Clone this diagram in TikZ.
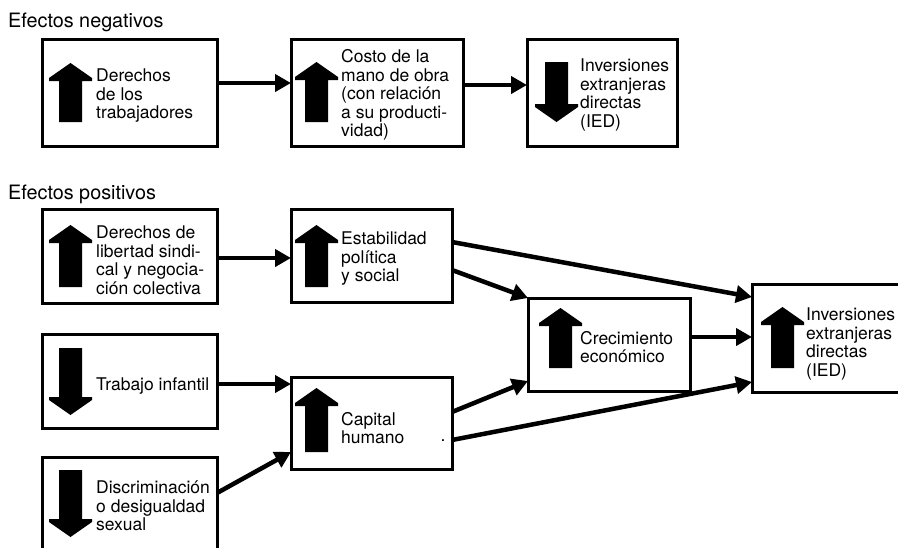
\documentclass[tikz,border=0pt]{standalone}
\usepackage{fontspec}
\setmainfont{TeX Gyre Heros}
\usetikzlibrary{arrows.meta}
\newcommand{\UpBlk}[3]{\fill (#1+21.5,#2) -- (#1+43,#2+15) -- (#1+43,#2+18) -- (#1+33,#2+18) -- (#1+33,#3) -- (#1+10,#3) -- (#1+10,#2+18) -- (#1,#2+18) -- (#1,#2+15) -- cycle;}
\newcommand{\DnBlk}[3]{\fill (#1+10,#2) -- (#1+33,#2) -- (#1+33,#3-18) -- (#1+43,#3-18) -- (#1+43,#3-15) -- (#1+21.5,#3) -- (#1,#3-15) -- (#1,#3-18) -- (#1+10,#3-18) -- cycle;}
\begin{document}
\begin{tikzpicture}[x=1pt,y=-1pt,
  box/.style={draw, line width=3pt, inner sep=0pt, outer sep=0pt, anchor=north west},
  conn/.style={line width=4.5pt, -{Triangle[length=16pt,width=17pt]}},
  lbl/.style={anchor=west, align=left, inner sep=0pt, font=\fontsize{17.5}{18.5}\selectfont},
  ttl/.style={anchor=base west, inner sep=0pt, font=\fontsize{19.8}{22}\selectfont}]
\useasboundingbox (0,0) rectangle (898,547);
\clip (0,0) rectangle (898,547);

% titles
\node[ttl] (tneg) at (8,27) {Efectos negativos};
\node[ttl] (tpos) at (8,199) {Efectos positivos};

% boxes
\node[box, minimum width=175pt, minimum height=107pt] (N1) at (42,39) {};
\node[box, minimum width=172pt, minimum height=107pt] (N2) at (291,39) {};
\node[box, minimum width=150pt, minimum height=107pt] (N3) at (527,39) {};
\node[box, minimum width=175pt, minimum height=94pt] (P1) at (42,209) {};
\node[box, minimum width=161pt, minimum height=93pt] (P2) at (291,209) {};
\node[box, minimum width=175pt, minimum height=94pt] (T) at (42,334) {};
\node[box, minimum width=161pt, minimum height=92pt] (H) at (291,377) {};
\node[box, minimum width=175pt, minimum height=113pt] (D) at (42,457) {};
\node[box, minimum width=162pt, minimum height=93pt] (C) at (528,298) {};
\node[box, minimum width=168pt, minimum height=108pt] (I) at (752,284) {};

% block arrows
\UpBlk{49}{63}{122}
\UpBlk{295}{62}{122}
\DnBlk{535}{62}{122}
\UpBlk{49}{225}{287}
\UpBlk{295}{225}{287}
\DnBlk{49}{348}{415}
\UpBlk{295}{388}{452}
\DnBlk{49}{470}{537}
\UpBlk{539}{308}{368}
\UpBlk{761}{307}{368}

% labels
\node[lbl] (lN1) at (96,96) {Derechos\\de los\\trabajadores};
\node[lbl] (lN2) at (341,95) {Costo de la\\mano de obra\\(con relación\\a su producti-\\vidad)};
\node[lbl] (lN3) at (580,95) {Inversiones\\extranjeras\\directas\\(IED)};
\node[lbl] (lP1) at (96,260) {Derechos de\\libertad sindi-\\cal y negocia-\\ción colectiva};
\node[lbl] (lP2) at (341,259) {Estabilidad\\política\\y social};
\node[lbl] (lT) at (96,386) {Trabajo infantil};
\node[lbl] (lH) at (341,428) {Capital\\humano};
\node[lbl] (lD) at (96,506) {Discriminación\\o desigualdad\\sexual};
\node[lbl] (lC) at (580,347) {Crecimiento\\económico};
\node[lbl] (lI) at (806,344) {Inversiones\\extranjeras\\directas\\(IED)};
\node[anchor=base, inner sep=0pt, font=\fontsize{17.5}{18.5}\selectfont] (dot) at (443,441) {.};

% connectors
\draw[conn] (N1.east |- 0,83) -- (N2.west |- 0,83);
\draw[conn] (N2.east |- 0,85) -- (N3.west |- 0,85);
\draw[conn] (P1.east |- 0,258) -- (P2.west |- 0,258);
\draw[conn] (T.east |- 0,384) -- (H.west |- 0,384);
\draw[conn] (D.east |- 0,493) -- (H.west |- 0,452);
\draw[conn] (P2.east |- 0,242) -- (I.west |- 0,297);
\draw[conn] (P2.east |- 0,270) -- (C.north west);
\draw[conn] (C.east |- 0,337) -- (I.west |- 0,337);
\draw[conn] (H.east |- 0,412) -- (C.west |- 0,381);
\draw[conn] (H.east |- 0,440) -- (I.west |- 0,382);
\end{tikzpicture}
\end{document}
